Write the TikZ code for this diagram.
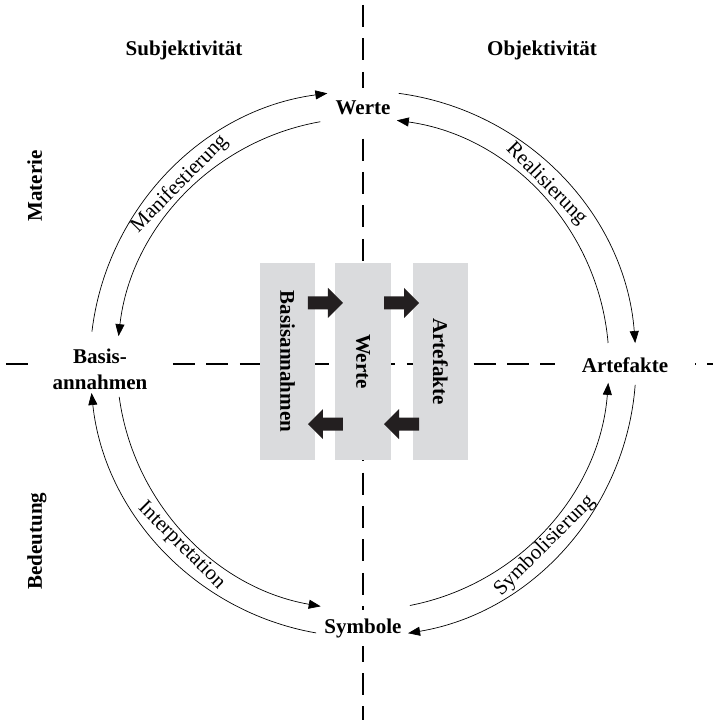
\documentclass[tikz,border=0pt]{standalone}
\usepackage{fontspec}
\setmainfont{Liberation Serif}
\usetikzlibrary{arrows.meta}
\definecolor{panelgray}{RGB}{218,219,221}
\definecolor{arrowblack}{RGB}{35,31,32}

\begin{document}
\begin{tikzpicture}[x=1pt,y=1pt,
  axis/.style={line width=1.4pt, dash pattern=on 22pt off 11.4pt},
  pole/.style={font=\fontsize{21}{26.5}\selectfont\bfseries, fill=white, inner sep=2pt, align=center},
  cyclearc/.style={line width=0.7pt, -{Triangle[length=12pt,width=9pt]}},
  arclabel/.style={font=\fontsize{21}{25}\selectfont, inner sep=0pt},
  heading/.style={font=\fontsize{21}{25}\selectfont\bfseries, inner sep=0pt},
  panel/.style={fill=panelgray, rotate=-90, minimum width=197pt, minimum height=55pt,
    inner sep=0pt, font=\fontsize{21}{25}\selectfont\bfseries},
  blockarrow/.style={fill=arrowblack}
]
\useasboundingbox (-363,-356) rectangle (350,364);
\coordinate (c) at (0,0);

% dashed axes
\draw[axis] (0,359) -- (0,-356);
\draw[axis] (-357,0) -- (350,0);

% central panels
\node[panel] (pbasis) at (-75.5,2.5) {Basisannahmen};
\node[panel] (pwerte) at (0,2.5) {Werte};
\node[panel] (partefakte) at (77.5,2.5) {Artefakte};

% block arrows between the panels
\fill[blockarrow] (-55,54.5) -- (-35,54.5) -- (-35,46) -- (-20,61) -- (-35,76) -- (-35,67.5) -- (-55,67.5) -- cycle;
\fill[blockarrow] (21,54.5) -- (41,54.5) -- (41,46) -- (56,61) -- (41,76) -- (41,67.5) -- (21,67.5) -- cycle;
\fill[blockarrow] (-20,-66.5) -- (-40,-66.5) -- (-40,-75) -- (-55,-60) -- (-40,-45) -- (-40,-53.5) -- (-20,-53.5) -- cycle;
\fill[blockarrow] (56,-66.5) -- (36,-66.5) -- (36,-75) -- (21,-60) -- (36,-45) -- (36,-53.5) -- (56,-53.5) -- cycle;

% quadrant headings
\node[heading, anchor=base] (subj) at (-179,308) {Subjektivität};
\node[heading, anchor=base] (obj) at (179,308) {Objektivität};
\node[heading, anchor=base, rotate=90] (mat) at (-321,178) {Materie};
\node[heading, anchor=base, rotate=90] (bed) at (-321,-177) {Bedeutung};

% the four poles
\node[pole, anchor=base, minimum height=41pt] (werte) at (0,249) {Werte};
\node[pole, anchor=base, minimum height=36pt] (symbole) at (0,-269) {Symbole};
\node[pole, minimum width=140pt] (basis) at (-263,-5.5) {Basis-\\annahmen};
\node[pole, anchor=base, minimum width=140pt] (artefakte) at (262,-9) {Artefakte};

% cycle arcs (outer radius 273, inner radius 246)
\draw[cyclearc] ([shift={(173.2:273)}]c) arc[start angle=173.2, end angle=97.5, radius=273];
\draw[cyclearc] ([shift={(100:246)}]c) arc[start angle=100, end angle=173.5, radius=246];
\draw[cyclearc] ([shift={(82.5:273)}]c) arc[start angle=82.5, end angle=4.4, radius=273];
\draw[cyclearc] ([shift={(4.9:246)}]c) arc[start angle=4.9, end angle=82.1, radius=246];
\draw[cyclearc] ([shift={(-4.4:273)}]c) arc[start angle=-4.4, end angle=-80.5, radius=273];
\draw[cyclearc] ([shift={(-79:246)}]c) arc[start angle=-79, end angle=-4.4, radius=246];
\draw[cyclearc] ([shift={(260.1:273)}]c) arc[start angle=260.1, end angle=186.1, radius=273];
\draw[cyclearc] ([shift={(187.7:246)}]c) arc[start angle=187.7, end angle=260.1, radius=246];

% arc labels
\node[arclabel, rotate=45.5] (lman) at (135.5:257) {Manifestierung};
\node[arclabel, rotate=-45.5] (lreal) at (44.5:257) {Realisierung};
\node[arclabel, rotate=-45] (linter) at (225:257) {Interpretation};
\node[arclabel, rotate=45] (lsym) at (-45:257) {Symbolisierung};
\end{tikzpicture}
\end{document}
